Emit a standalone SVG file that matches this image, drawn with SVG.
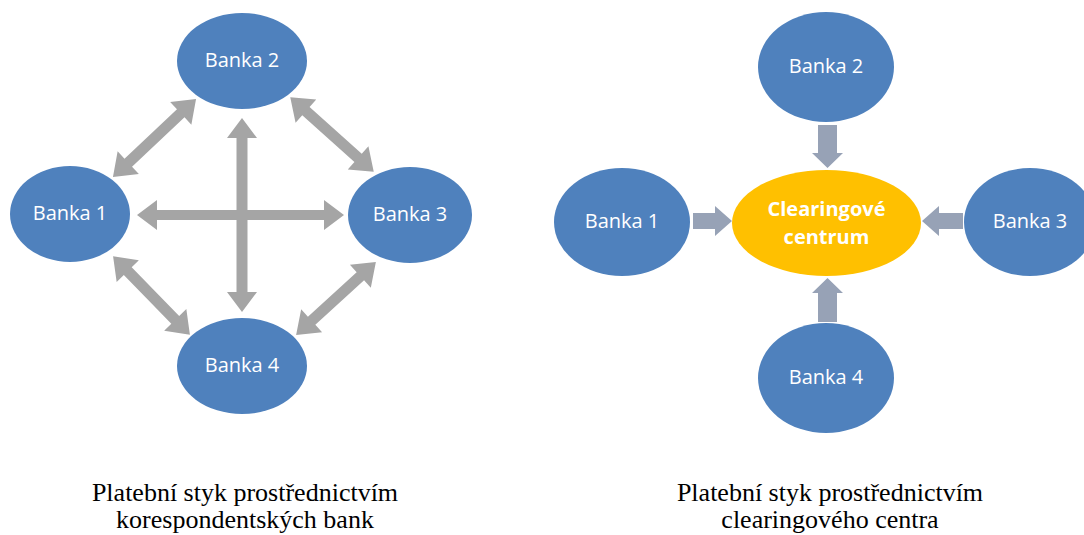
<svg xmlns="http://www.w3.org/2000/svg" width="1084" height="535" viewBox="0 0 1084 535">
<style>
.bank{fill:#4F81BD}
.center{fill:#FFC000}
.lbl{font-family:"Open Sans","Liberation Sans",sans-serif;font-size:20px;fill:#FFFFFF;text-anchor:middle}
.lblb{font-family:"Open Sans","Liberation Sans",sans-serif;font-size:20px;font-weight:bold;fill:#FFFFFF;text-anchor:middle}
.cap{font-family:"Liberation Serif",serif;font-size:26px;fill:#000;text-anchor:middle}
.dbl{fill:#A5A5A5}
.blk{fill:#97A2B6}
</style>
<rect width="1084" height="535" fill="#FFFFFF"/>
<g id="connectors">
  <polygon class="dbl" transform="translate(240.5,215)" points="-103.5,0 -83.5,-15 -83.5,-5 83.5,-5 83.5,-15 103.5,0 83.5,15 83.5,5 -83.5,5 -83.5,15"/>
  <polygon class="dbl" transform="translate(242,215) rotate(90)" points="-97,0 -77,-15 -77,-5.5 77,-5.5 77,-15 97,0 77,15 77,5.5 -77,5.5 -77,15"/>
  <polygon class="dbl" transform="translate(154.5,138) rotate(-43.2)" points="-57,0 -36,-15.5 -36,-5.5 36,-5.5 36,-15.5 57,0 36,15.5 36,5.5 -36,5.5 -36,15.5"/>
  <polygon class="dbl" transform="translate(332,134.5) rotate(41.8)" points="-56,0 -35,-15.5 -35,-5.5 35,-5.5 35,-15.5 56,0 35,15.5 35,5.5 -35,5.5 -35,15.5"/>
  <polygon class="dbl" transform="translate(151.5,295.5) rotate(45.7)" points="-55,0 -34,-15.5 -34,-5.5 34,-5.5 34,-15.5 55,0 34,15.5 34,5.5 -34,5.5 -34,15.5"/>
  <polygon class="dbl" transform="translate(336,298.5) rotate(-42.4)" points="-54,0 -33,-15.5 -33,-5.5 33,-5.5 33,-15.5 54,0 33,15.5 33,5.5 -33,5.5 -33,15.5"/>
  <polygon class="blk" points="818,125 837,125 837,153 843,153 827.5,168 812,153 818,153"/>
  <polygon class="blk" points="818,322 837,322 837,293 843,293 827.5,278 812,293 818,293"/>
  <polygon class="blk" points="693,213 715,213 715,206 732,221 715,236 715,229 693,229"/>
  <polygon class="blk" points="963,213 939,213 939,206 922,221 939,236 939,229 963,229"/>
</g>
<g id="l-banka2"><ellipse class="bank" cx="242" cy="61" rx="65" ry="48"/><text class="lbl" x="242" y="67">Banka 2</text></g>
<g id="l-banka1"><ellipse class="bank" cx="70" cy="214" rx="60" ry="48"/><text class="lbl" x="70" y="220">Banka 1</text></g>
<g id="l-banka3"><ellipse class="bank" cx="410" cy="215" rx="62" ry="48"/><text class="lbl" x="410" y="221">Banka 3</text></g>
<g id="l-banka4"><ellipse class="bank" cx="242" cy="366" rx="65" ry="48"/><text class="lbl" x="242" y="372">Banka 4</text></g>
<g id="r-banka2"><ellipse class="bank" cx="826" cy="67" rx="68" ry="55"/><text class="lbl" x="826" y="73">Banka 2</text></g>
<g id="r-banka1"><ellipse class="bank" cx="622" cy="222" rx="68" ry="54"/><text class="lbl" x="622" y="228">Banka 1</text></g>
<g id="r-banka3"><ellipse class="bank" cx="1030" cy="222" rx="66" ry="54"/><text class="lbl" x="1030" y="228">Banka 3</text></g>
<g id="r-banka4"><ellipse class="bank" cx="826" cy="378" rx="68" ry="55"/><text class="lbl" x="826" y="384">Banka 4</text></g>
<g id="clearing"><ellipse class="center" cx="826.5" cy="223" rx="94.5" ry="53"/><text class="lblb" x="826.5" y="216">Clearingové</text><text class="lblb" x="826.5" y="244">centrum</text></g>
<g id="captions">
  <text class="cap" x="245" y="501">Platební styk prostřednictvím</text>
  <text class="cap" x="245" y="528">korespondentských bank</text>
  <text class="cap" x="830" y="501">Platební styk prostřednictvím</text>
  <text class="cap" x="830" y="528">clearingového centra</text>
</g>
</svg>
